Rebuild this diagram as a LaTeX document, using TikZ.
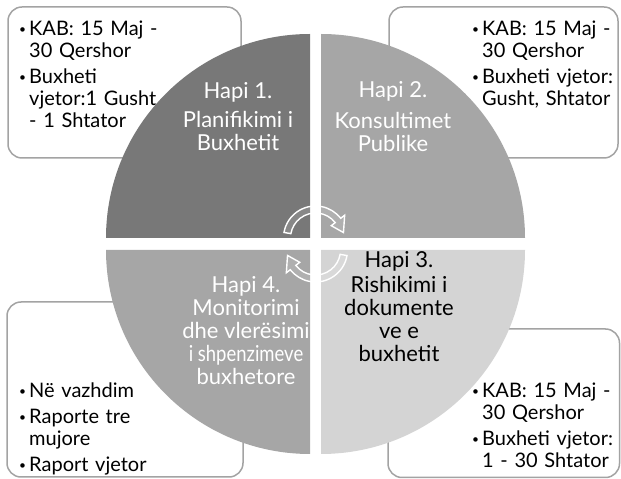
\documentclass[tikz,border=0pt]{standalone}
\usepackage{fontspec}
\usepackage{graphicx}
\setmainfont{Lato}
\usetikzlibrary{calc}
\newcommand*{\qrad}{204}
\newcommand*{\cx  }{315.5}
\newcommand*{\cy  }{235}
\newcommand*{\itm}[1]{{\hangindent=13pt\hangafter=1\noindent\makebox[13pt][c]{\raisebox{0.1em}{\scalebox{0.6}{\textbullet}}}#1\par}}
\definecolor{qdark}{gray}{0.47}
\definecolor{qmid}{gray}{0.65}
\definecolor{qlight}{gray}{0.83}
\definecolor{boxline}{gray}{0.64}

\begin{document}
\begin{tikzpicture}[x=1pt, y=1pt,
    infobox/.style={draw=boxline, line width=1.5pt, fill=white, rounded corners=14pt},
    infotext/.style={anchor=north west, inner sep=0pt, text width=150pt, align=left,
        font=\fontsize{20}{22}\selectfont\setlength{\parskip}{4pt}},
    steptext/.style={align=center, inner sep=0pt, font=\fontsize{22}{23}\selectfont},
    cyclearrow/.style={draw=white, line width=1.4pt, fill=white, fill opacity=0.12},
    cyclearr/.pic={
        \path [cyclearrow] (170:32) arc [start angle=170, end angle=38, radius=32]
            -- (38:37) -- (11:28.5) -- (38:20) -- (38:25)
            arc [start angle=38, end angle=170, radius=25] -- cycle;
    }]
    \useasboundingbox (0,0) rectangle (621,479);
    % boxes behind the circle
    \draw [infobox] (8,321) rectangle (241,472);
    \draw [infobox] (389,321) rectangle (618,472);
    \draw [infobox] (7,2) rectangle (243,177);
    \draw [infobox] (388,1.5) rectangle (619.5,150);
    \node [infotext] (info1) at (16,458) {\itm{KAB: 15 Maj -\newline 30 Qershor}\itm{Buxheti\newline vjetor:1 Gusht\newline - 1 Shtator}};
    \node [infotext] (info2) at (469,458) {\itm{KAB: 15 Maj -\newline 30 Qershor}\itm{Buxheti vjetor:\newline Gusht, Shtator}};
    \node [infotext] (info4) at (16,96) {\itm{Në vazhdim}\itm{Raporte tre\newline mujore}\itm{Raport vjetor}};
    \node [infotext] (info3) at (469,96) {\itm{KAB: 15 Maj -\newline 30 Qershor}\itm{Buxheti vjetor:\newline 1 - 30 Shtator}};
    % the four quarters
    \fill [qdark ] (310,241) -- ++(-\qrad,0) arc [start angle=180, end angle=90, radius=\qrad] -- cycle;
    \fill [qmid  ] (321,241) -- ++(0,\qrad) arc [start angle=90, end angle=0, radius=\qrad] -- cycle;
    \fill [qlight] (321,229) -- ++(\qrad,0) arc [start angle=0, end angle=-90, radius=\qrad] -- cycle;
    \fill [qmid  ] (310,229) -- ++(0,-\qrad) arc [start angle=270, end angle=180, radius=\qrad] -- cycle;
    \node [steptext, text=white] (step1) at (238,362) {Hapi 1.\\[6pt] Planifikimi i\\ Buxhetit};
    \node [steptext, text=white] (step2) at (393,362) {Hapi 2.\\[8pt] Konsultimet\\ Publike};
    \node [steptext, text=black] (step3) at (399,172) {Hapi 3.\\[2pt] Rishikimi i\\ dokumente\\ ve e\\ buxhetit};
    \node [steptext, text=white] (step4) at (246,148) {Hapi 4.\\ Monitorimi\\ dhe vlerësimi\\ \scalebox{0.84}[1]{i shpenzimeve}\\ buxhetore};
    % arrows in the middle
    \pic at (\cx,241) {cyclearr};
    \pic [rotate=180] at (\cx,229) {cyclearr};
    %\draw [white, line width=2pt] (\cx,30) -- (\cx,440);
\end{tikzpicture}
\end{document}
